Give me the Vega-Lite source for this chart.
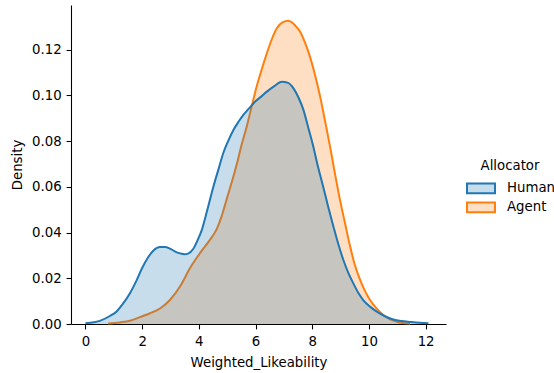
{
  "$schema": "https://vega.github.io/schema/vega-lite/v6.json",
  "width": 375,
  "height": 319,
  "autosize": {"type": "none"},
  "padding": {"left": 71, "top": 5, "right": 108, "bottom": 49},
  "background": "white",
  "config": {
    "view": {"stroke": null},
    "font": "DejaVu Sans",
    "axis": {
      "domainColor": "#000000",
      "domainWidth": 1.07,
      "tickColor": "#000000",
      "tickWidth": 1.07,
      "tickSize": 4.9,
      "grid": false,
      "labelFont": "DejaVu Sans",
      "labelFontSize": 13.3,
      "labelColor": "#000000",
      "titleFont": "DejaVu Sans",
      "titleFontSize": 13.3,
      "titleFontWeight": "normal",
      "titleColor": "#000000"
    },
    "legend": {
      "titleFont": "DejaVu Sans",
      "titleFontSize": 13.3,
      "titleFontWeight": "normal",
      "titleColor": "#000000",
      "labelFont": "DejaVu Sans",
      "labelFontSize": 13.3,
      "labelColor": "#000000"
    }
  },
  "datasets": {
    "human": [
      {"Weighted_Likeability": 0.0, "Density": 0.0003, "Allocator": "Human"},
      {"Weighted_Likeability": 0.3, "Density": 0.0008, "Allocator": "Human"},
      {"Weighted_Likeability": 0.55, "Density": 0.0016, "Allocator": "Human"},
      {"Weighted_Likeability": 0.86, "Density": 0.0035, "Allocator": "Human"},
      {"Weighted_Likeability": 1.1, "Density": 0.0055, "Allocator": "Human"},
      {"Weighted_Likeability": 1.33, "Density": 0.0090, "Allocator": "Human"},
      {"Weighted_Likeability": 1.57, "Density": 0.0135, "Allocator": "Human"},
      {"Weighted_Likeability": 1.8, "Density": 0.0190, "Allocator": "Human"},
      {"Weighted_Likeability": 2.0, "Density": 0.0245, "Allocator": "Human"},
      {"Weighted_Likeability": 2.2, "Density": 0.0290, "Allocator": "Human"},
      {"Weighted_Likeability": 2.4, "Density": 0.0322, "Allocator": "Human"},
      {"Weighted_Likeability": 2.63, "Density": 0.0337, "Allocator": "Human"},
      {"Weighted_Likeability": 2.8, "Density": 0.0337, "Allocator": "Human"},
      {"Weighted_Likeability": 2.98, "Density": 0.0330, "Allocator": "Human"},
      {"Weighted_Likeability": 3.15, "Density": 0.0318, "Allocator": "Human"},
      {"Weighted_Likeability": 3.34, "Density": 0.0309, "Allocator": "Human"},
      {"Weighted_Likeability": 3.5, "Density": 0.0305, "Allocator": "Human"},
      {"Weighted_Likeability": 3.62, "Density": 0.0308, "Allocator": "Human"},
      {"Weighted_Likeability": 3.8, "Density": 0.0328, "Allocator": "Human"},
      {"Weighted_Likeability": 3.95, "Density": 0.0365, "Allocator": "Human"},
      {"Weighted_Likeability": 4.1, "Density": 0.0410, "Allocator": "Human"},
      {"Weighted_Likeability": 4.3, "Density": 0.0500, "Allocator": "Human"},
      {"Weighted_Likeability": 4.51, "Density": 0.0600, "Allocator": "Human"},
      {"Weighted_Likeability": 4.7, "Density": 0.0680, "Allocator": "Human"},
      {"Weighted_Likeability": 4.86, "Density": 0.0747, "Allocator": "Human"},
      {"Weighted_Likeability": 5.05, "Density": 0.0805, "Allocator": "Human"},
      {"Weighted_Likeability": 5.22, "Density": 0.0849, "Allocator": "Human"},
      {"Weighted_Likeability": 5.4, "Density": 0.0885, "Allocator": "Human"},
      {"Weighted_Likeability": 5.57, "Density": 0.0915, "Allocator": "Human"},
      {"Weighted_Likeability": 5.78, "Density": 0.0945, "Allocator": "Human"},
      {"Weighted_Likeability": 5.98, "Density": 0.0973, "Allocator": "Human"},
      {"Weighted_Likeability": 6.2, "Density": 0.0995, "Allocator": "Human"},
      {"Weighted_Likeability": 6.4, "Density": 0.1017, "Allocator": "Human"},
      {"Weighted_Likeability": 6.65, "Density": 0.1040, "Allocator": "Human"},
      {"Weighted_Likeability": 6.93, "Density": 0.1060, "Allocator": "Human"},
      {"Weighted_Likeability": 7.15, "Density": 0.1055, "Allocator": "Human"},
      {"Weighted_Likeability": 7.34, "Density": 0.1031, "Allocator": "Human"},
      {"Weighted_Likeability": 7.52, "Density": 0.0990, "Allocator": "Human"},
      {"Weighted_Likeability": 7.69, "Density": 0.0937, "Allocator": "Human"},
      {"Weighted_Likeability": 7.86, "Density": 0.0860, "Allocator": "Human"},
      {"Weighted_Likeability": 8.04, "Density": 0.0776, "Allocator": "Human"},
      {"Weighted_Likeability": 8.2, "Density": 0.0690, "Allocator": "Human"},
      {"Weighted_Likeability": 8.39, "Density": 0.0600, "Allocator": "Human"},
      {"Weighted_Likeability": 8.57, "Density": 0.0510, "Allocator": "Human"},
      {"Weighted_Likeability": 8.75, "Density": 0.0426, "Allocator": "Human"},
      {"Weighted_Likeability": 8.92, "Density": 0.0350, "Allocator": "Human"},
      {"Weighted_Likeability": 9.1, "Density": 0.0280, "Allocator": "Human"},
      {"Weighted_Likeability": 9.27, "Density": 0.0225, "Allocator": "Human"},
      {"Weighted_Likeability": 9.45, "Density": 0.0178, "Allocator": "Human"},
      {"Weighted_Likeability": 9.62, "Density": 0.0138, "Allocator": "Human"},
      {"Weighted_Likeability": 9.8, "Density": 0.0105, "Allocator": "Human"},
      {"Weighted_Likeability": 10.05, "Density": 0.0075, "Allocator": "Human"},
      {"Weighted_Likeability": 10.28, "Density": 0.0054, "Allocator": "Human"},
      {"Weighted_Likeability": 10.55, "Density": 0.0035, "Allocator": "Human"},
      {"Weighted_Likeability": 10.86, "Density": 0.0020, "Allocator": "Human"},
      {"Weighted_Likeability": 11.15, "Density": 0.0013, "Allocator": "Human"},
      {"Weighted_Likeability": 11.45, "Density": 0.0009, "Allocator": "Human"},
      {"Weighted_Likeability": 11.8, "Density": 0.0005, "Allocator": "Human"},
      {"Weighted_Likeability": 12.1, "Density": 0.0003, "Allocator": "Human"}
    ],
    "agent": [
      {"Weighted_Likeability": 0.8, "Density": 0.0002, "Allocator": "Agent"},
      {"Weighted_Likeability": 1.2, "Density": 0.0007, "Allocator": "Agent"},
      {"Weighted_Likeability": 1.57, "Density": 0.0014, "Allocator": "Agent"},
      {"Weighted_Likeability": 1.92, "Density": 0.0030, "Allocator": "Agent"},
      {"Weighted_Likeability": 2.28, "Density": 0.0047, "Allocator": "Agent"},
      {"Weighted_Likeability": 2.63, "Density": 0.0068, "Allocator": "Agent"},
      {"Weighted_Likeability": 2.98, "Density": 0.0105, "Allocator": "Agent"},
      {"Weighted_Likeability": 3.34, "Density": 0.0165, "Allocator": "Agent"},
      {"Weighted_Likeability": 3.69, "Density": 0.0245, "Allocator": "Agent"},
      {"Weighted_Likeability": 4.04, "Density": 0.0310, "Allocator": "Agent"},
      {"Weighted_Likeability": 4.39, "Density": 0.0368, "Allocator": "Agent"},
      {"Weighted_Likeability": 4.63, "Density": 0.0415, "Allocator": "Agent"},
      {"Weighted_Likeability": 4.8, "Density": 0.0470, "Allocator": "Agent"},
      {"Weighted_Likeability": 4.98, "Density": 0.0545, "Allocator": "Agent"},
      {"Weighted_Likeability": 5.16, "Density": 0.0620, "Allocator": "Agent"},
      {"Weighted_Likeability": 5.34, "Density": 0.0700, "Allocator": "Agent"},
      {"Weighted_Likeability": 5.5, "Density": 0.0780, "Allocator": "Agent"},
      {"Weighted_Likeability": 5.69, "Density": 0.0864, "Allocator": "Agent"},
      {"Weighted_Likeability": 5.86, "Density": 0.0950, "Allocator": "Agent"},
      {"Weighted_Likeability": 6.04, "Density": 0.1039, "Allocator": "Agent"},
      {"Weighted_Likeability": 6.22, "Density": 0.1115, "Allocator": "Agent"},
      {"Weighted_Likeability": 6.4, "Density": 0.1185, "Allocator": "Agent"},
      {"Weighted_Likeability": 6.57, "Density": 0.1245, "Allocator": "Agent"},
      {"Weighted_Likeability": 6.75, "Density": 0.1294, "Allocator": "Agent"},
      {"Weighted_Likeability": 6.95, "Density": 0.1320, "Allocator": "Agent"},
      {"Weighted_Likeability": 7.16, "Density": 0.1327, "Allocator": "Agent"},
      {"Weighted_Likeability": 7.37, "Density": 0.1310, "Allocator": "Agent"},
      {"Weighted_Likeability": 7.57, "Density": 0.1280, "Allocator": "Agent"},
      {"Weighted_Likeability": 7.75, "Density": 0.1230, "Allocator": "Agent"},
      {"Weighted_Likeability": 7.92, "Density": 0.1170, "Allocator": "Agent"},
      {"Weighted_Likeability": 8.1, "Density": 0.1090, "Allocator": "Agent"},
      {"Weighted_Likeability": 8.28, "Density": 0.0995, "Allocator": "Agent"},
      {"Weighted_Likeability": 8.45, "Density": 0.0890, "Allocator": "Agent"},
      {"Weighted_Likeability": 8.63, "Density": 0.0776, "Allocator": "Agent"},
      {"Weighted_Likeability": 8.8, "Density": 0.0660, "Allocator": "Agent"},
      {"Weighted_Likeability": 8.98, "Density": 0.0543, "Allocator": "Agent"},
      {"Weighted_Likeability": 9.16, "Density": 0.0440, "Allocator": "Agent"},
      {"Weighted_Likeability": 9.34, "Density": 0.0338, "Allocator": "Agent"},
      {"Weighted_Likeability": 9.5, "Density": 0.0260, "Allocator": "Agent"},
      {"Weighted_Likeability": 9.69, "Density": 0.0193, "Allocator": "Agent"},
      {"Weighted_Likeability": 9.86, "Density": 0.0145, "Allocator": "Agent"},
      {"Weighted_Likeability": 10.04, "Density": 0.0105, "Allocator": "Agent"},
      {"Weighted_Likeability": 10.27, "Density": 0.0068, "Allocator": "Agent"},
      {"Weighted_Likeability": 10.51, "Density": 0.0039, "Allocator": "Agent"},
      {"Weighted_Likeability": 10.75, "Density": 0.0020, "Allocator": "Agent"},
      {"Weighted_Likeability": 10.98, "Density": 0.0010, "Allocator": "Agent"},
      {"Weighted_Likeability": 11.2, "Density": 0.0004, "Allocator": "Agent"},
      {"Weighted_Likeability": 11.45, "Density": 0.0002, "Allocator": "Agent"}
    ]
  },
  "encoding": {
    "x": {
      "field": "Weighted_Likeability",
      "type": "quantitative",
      "scale": {"domain": [-0.51, 12.72], "nice": false, "zero": false},
      "axis": {"values": [0, 2, 4, 6, 8, 10, 12], "format": "d", "title": "Weighted_Likeability", "labelPadding": 6, "titlePadding": 7}
    },
    "y": {
      "field": "Density",
      "type": "quantitative",
      "scale": {"domain": [0, 0.1396], "nice": false},
      "axis": {"values": [0, 0.02, 0.04, 0.06, 0.08, 0.1, 0.12], "format": ".2f", "title": "Density", "labelPadding": 5, "titlePadding": 7}
    },
    "color": {
      "field": "Allocator",
      "type": "nominal",
      "scale": {"domain": ["Human", "Agent"], "range": ["#1f77b4", "#ff7f0e"]},
      "legend": {
        "orient": "none",
        "legendX": 402,
        "legendY": 156,
        "padding": 0,
        "title": "Allocator",
        "titleAnchor": "middle",
        "titleAlign": "center",
        "titlePadding": 6,
        "symbolType": "M-2,-0.7H2V0.7H-2Z",
        "symbolSize": 196,
        "symbolStrokeWidth": 2,
        "labelOffset": 18,
        "rowPadding": 1,
        "encode": {
          "title": {
            "update": {
              "dx": {"value": -4},
              "dy": {"value": -2}
            }
          },
          "symbols": {
            "update": {
              "fill": {"scale": "color", "field": "value"},
              "fillOpacity": {"value": 0.25},
              "stroke": {"scale": "color", "field": "value"},
              "strokeOpacity": {"value": 1},
              "strokeWidth": {"value": 2}
            }
          }
        }
      }
    }
  },
  "layer": [
    {
      "data": {"name": "agent"},
      "mark": {"type": "area", "fillOpacity": 0.25, "interpolate": "monotone", "line": {"strokeWidth": 2}}
    },
    {
      "data": {"name": "human"},
      "mark": {"type": "area", "fillOpacity": 0.25, "interpolate": "monotone", "line": {"strokeWidth": 2}}
    }
  ]
}
